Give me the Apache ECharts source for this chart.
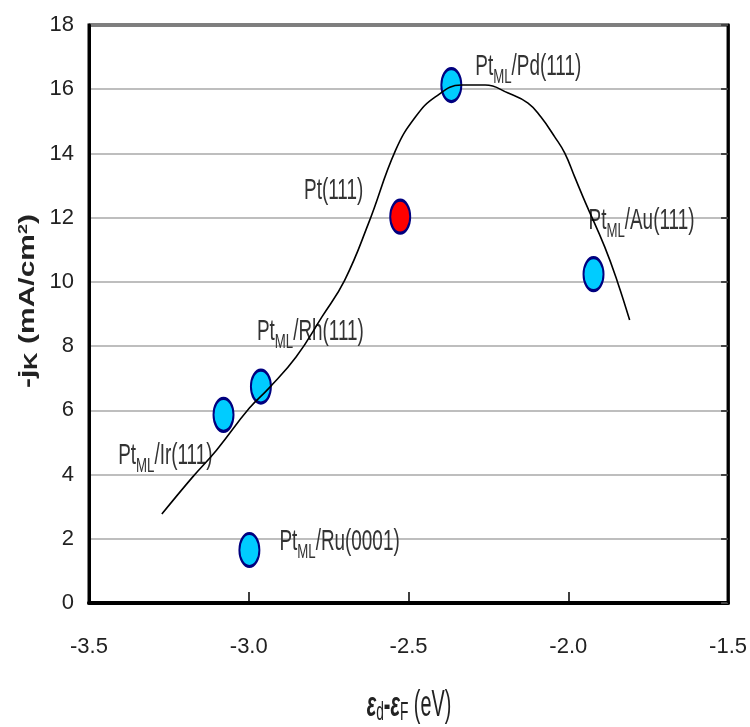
<!DOCTYPE html>
<html>
<head>
<meta charset="utf-8">
<script src="https://cdn.jsdelivr.net/npm/echarts@6/dist/echarts.min.js"></script>
<style>html,body{margin:0;padding:0;background:#fff}#c{width:750px;height:727px}</style>
</head>
<body>
<div id="c"></div>
<script>
// ---- data ----
const xTickValues = [-3.5, -3.0, -2.5, -2.0, -1.5];
const yTickValues = [0, 2, 4, 6, 8, 10, 12, 14, 16, 18];
const overlayerLabels = ['Pt_ML/Ir(111)', 'Pt_ML/Rh(111)', 'Pt_ML/Ru(0001)', 'Pt_ML/Pd(111)', 'Pt_ML/Au(111)'];
const overlayerX = [-3.079, -2.962, -2.998, -2.366, -1.921];
const overlayerY = [5.86, 6.74, 1.65, 16.13, 10.24];
const refLabels = ['Pt(111)'];
const refX = [-2.526];
const refY = [12.03];
const curveX = [-3.272, -3.176, -3.101, -2.998, -2.936, -2.852, -2.771, -2.700, -2.625, -2.540, -2.478, -2.416, -2.335, -2.260, -2.188, -2.126, -2.086, -2.042, -2.011, -1.980, -1.946, -1.886, -1.846, -1.808];
const curveY = [2.77, 3.92, 4.76, 6.07, 6.70, 7.66, 8.91, 10.05, 11.83, 14.11, 15.14, 15.76, 16.13, 16.13, 15.88, 15.57, 15.14, 14.51, 14.01, 13.27, 12.46, 11.09, 10.00, 8.81];

// ---- styling (label placement relative to each point, in pixels) ----
const labelPlacement = {
  'Pt_ML/Ir(111)': { align: 'right', offset: [-11, 44] },
  'Pt_ML/Rh(111)': { align: 'left', offset: [-4, -52] },
  'Pt_ML/Ru(0001)': { align: 'left', offset: [30, -5] },
  'Pt_ML/Pd(111)': { align: 'left', offset: [24, -15] },
  'Pt_ML/Au(111)': { align: 'left', offset: [-5, -50] },
  'Pt(111)': { align: 'right', offset: [-37, -26] }
};
const SANS = '"Liberation Sans", Arial, sans-serif';
const ELLIPSE = 'path://M0,-1A1,1,0,1,1,0,1A1,1,0,1,1,0,-1Z';

function richName(name) {
  const i = name.indexOf('_ML');
  if (i < 0) return '{m|' + name + '}';
  return '{m|' + name.slice(0, i) + '}{s|ML}{m|' + name.slice(i + 3) + '}';
}
const labelRich = {
  m: { fontFamily: SANS, fontSize: 30, lineHeight: 30, verticalAlign: 'top', fill: '#333' },
  s: { fontFamily: SANS, fontSize: 21, padding: [15, 0, 0, 0], verticalAlign: 'top', fill: '#333' }
};

const allNames = overlayerLabels.concat(refLabels);
const allX = overlayerX.concat(refX);
const allY = overlayerY.concat(refY);

const chart = echarts.init(document.getElementById('c'), null, { renderer: 'canvas' });
chart.setOption({
  animation: false,
  backgroundColor: '#fff',
  grid: { left: 89, right: 19, top: 25, bottom: 124, show: true, borderColor: '#000', borderWidth: 3, backgroundColor: 'transparent' },
  xAxis: {
    type: 'value', min: xTickValues[0], max: xTickValues[xTickValues.length - 1], interval: 0.5,
    axisLine: { show: true, onZero: false, lineStyle: { color: '#000', width: 4 } },
    axisTick: { show: true, inside: true, length: 11, lineStyle: { color: '#000', width: 1.5 } },
    axisLabel: { margin: 33, fontFamily: SANS, fontSize: 22, color: '#222', formatter: v => v.toFixed(1), showMinLabel: true, showMaxLabel: true },
    splitLine: { show: false }
  },
  yAxis: [{
    type: 'value', min: yTickValues[0], max: yTickValues[yTickValues.length - 1], interval: 2,
    axisLine: { show: true, lineStyle: { color: '#000', width: 3 } },
    axisTick: { show: false },
    axisLabel: { margin: 15, fontFamily: SANS, fontSize: 22, color: '#222' },
    splitLine: { show: true, lineStyle: { color: '#a8a8a8', width: 1.5 } }
  }, {
    type: 'value', position: 'right', min: yTickValues[0], max: yTickValues[yTickValues.length - 1], interval: 2,
    axisLine: { show: true, lineStyle: { color: '#000', width: 2.5 } },
    axisTick: { show: true, inside: true, length: 7, lineStyle: { color: '#444', width: 2 } },
    axisLabel: { show: false },
    splitLine: { show: false }
  }],
  graphic: [{
    type: 'text', x: 29, y: 301, rotation: Math.PI / 2, scaleY: 0.75, z: 100,
    style: {
      text: '{b|-j}{k|K}{b| (mA/cm}{sup|2}{b|)}',
      align: 'center', verticalAlign: 'middle', fill: '#222',
      rich: {
        b: { fontFamily: SANS, fontWeight: 'bold', fontSize: 30, lineHeight: 30, verticalAlign: 'top' },
        k: { fontFamily: SANS, fontWeight: 'bold', fontSize: 24, padding: [9, 0, 0, 0], verticalAlign: 'top' },
        sup: { fontFamily: SANS, fontWeight: 'bold', fontSize: 18, lineHeight: 18, verticalAlign: 'top' }
      }
    }
  }, {
    type: 'text', x: 409, y: 707, scaleX: 0.55, z: 100,
    style: {
      text: '{e|ε}{d|d}{h|-}{e|ε}{d|F}{r| (eV)}',
      align: 'center', verticalAlign: 'middle', fill: '#222',
      rich: {
        e: { fontFamily: SANS, fontWeight: 'bold', fontStyle: 'italic', fontSize: 36, lineHeight: 36, verticalAlign: 'top' },
        h: { fontFamily: SANS, fontWeight: 'bold', fontSize: 36, lineHeight: 36, verticalAlign: 'top' },
        d: { fontFamily: SANS, fontSize: 25, padding: [12, 0, 0, 0], verticalAlign: 'top' },
        r: { fontFamily: SANS, fontSize: 36, lineHeight: 36, verticalAlign: 'top' }
      }
    }
  }],
  series: [{
    type: 'line', name: 'trend', z: 5, silent: true,
    data: curveX.map((x, i) => [x, curveY[i]]),
    smooth: 0.45, showSymbol: false, symbol: 'none',
    lineStyle: { color: '#000', width: 1.6 }
  }, {
    type: 'scatter', name: 'Pt monolayers', z: 3,
    symbol: ELLIPSE, symbolSize: [20, 33],
    itemStyle: { color: '#00CCFF', borderColor: '#00007F', borderWidth: 2.5, opacity: 1 },
    data: overlayerX.map((x, i) => ({ name: overlayerLabels[i], value: [x, overlayerY[i]] }))
  }, {
    type: 'scatter', name: 'Pt(111)', z: 3,
    symbol: ELLIPSE, symbolSize: [20, 33],
    itemStyle: { color: '#FF0000', borderColor: '#00007F', borderWidth: 2.5, opacity: 1 },
    data: refX.map((x, i) => ({ name: refLabels[i], value: [x, refY[i]] }))
  }, {
    type: 'custom', name: 'labels', z: 4, silent: true, clip: false,
    data: allX.map((x, i) => [x, allY[i]]),
    renderItem: (params, api) => {
      const name = allNames[params.dataIndex];
      const p = labelPlacement[name];
      const c = api.coord([api.value(0), api.value(1)]);
      return {
        type: 'text', x: c[0] + p.offset[0], y: c[1] + p.offset[1], scaleX: 0.63,
        style: { text: richName(name), rich: labelRich, align: p.align, verticalAlign: 'middle', fill: '#333', fontFamily: SANS, fontSize: 30 }
      };
    }
  }]
});
</script>
</body>
</html>
